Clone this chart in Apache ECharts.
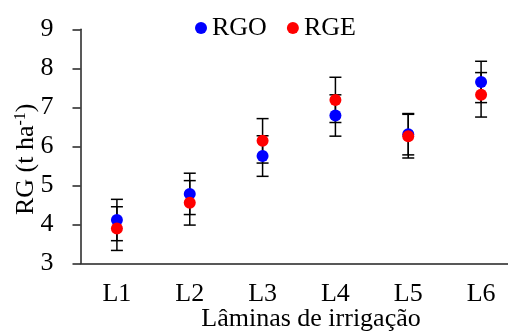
<!DOCTYPE html>
<html>
<head>
<meta charset="utf-8">
<script src="https://cdn.jsdelivr.net/npm/echarts@6/dist/echarts.min.js"></script>
<style>html,body{margin:0;padding:0;background:#fff}#c{width:508px;height:331px}</style>
</head>
<body>
<div id="c"></div>
<script>
var categories = ['L1', 'L2', 'L3', 'L4', 'L5', 'L6'];
var rgo = [4.11, 4.78, 5.75, 6.79, 6.31, 7.65];
var rgoErr = [0.53, 0.53, 0.52, 0.53, 0.53, 0.53];
var rge = [3.89, 4.55, 6.14, 7.19, 6.26, 7.32];
var rgeErr = [0.56, 0.57, 0.57, 0.58, 0.56, 0.57];
var yTicks = [3, 4, 5, 6, 7, 8, 9];

var FONT = '"Liberation Serif", "Times New Roman", serif';
var FS = 26;

function errData(vals, errs) {
  return vals.map(function (v, i) { return [i, v - errs[i], v + errs[i]]; });
}
function renderErr(params, api) {
  var x = api.value(0);
  var lo = api.coord([x, api.value(1)]);
  var hi = api.coord([x, api.value(2)]);
  var hw = 6;
  var st = { stroke: '#000', lineWidth: 1.5 };
  return {
    type: 'group',
    children: [
      { type: 'line', shape: { x1: hi[0], y1: hi[1], x2: lo[0], y2: lo[1] }, style: st },
      { type: 'line', shape: { x1: hi[0] - hw, y1: hi[1], x2: hi[0] + hw, y2: hi[1] }, style: st },
      { type: 'line', shape: { x1: lo[0] - hw, y1: lo[1], x2: lo[0] + hw, y2: lo[1] }, style: st }
    ]
  };
}

var chart = echarts.init(document.getElementById('c'), null, { renderer: 'canvas' });
chart.setOption({
  animation: false,
  backgroundColor: '#fff',
  textStyle: { fontFamily: FONT, color: '#000' },
  legend: {
    data: ['RGO', 'RGE'],
    left: 190, top: 10,
    icon: 'circle', itemWidth: 12, itemHeight: 12, itemGap: 20,
    textStyle: { fontFamily: FONT, fontSize: FS, color: '#000' }
  },
  grid: { left: 80.5, top: 29.3, width: 437, bottom: 67.7, containLabel: false, outerBoundsMode: 'none' },
  xAxis: {
    type: 'category', data: categories, boundaryGap: true,
    axisLine: { lineStyle: { color: '#222', width: 1.5 } },
    axisTick: { alignWithLabel: true, length: 7, lineStyle: { color: '#222', width: 1.5 } },
    axisLabel: { fontFamily: FONT, fontSize: FS, color: '#000', margin: 18 },
    name: 'Lâminas de irrigação', nameLocation: 'middle', nameGap: 43, nameMoveOverlap: false,
    nameTextStyle: { fontFamily: FONT, fontSize: FS, color: '#000', padding: [0, 0, 0, 24] }
  },
  yAxis: {
    type: 'value', min: yTicks[0], max: yTicks[yTicks.length - 1], interval: 1,
    splitLine: { show: false },
    axisLine: { show: true, lineStyle: { color: '#222', width: 1.5 } },
    axisTick: { show: true, length: 8, lineStyle: { color: '#222', width: 1.5 } },
    axisLabel: { fontFamily: FONT, fontSize: FS, color: '#000', margin: 27 },
    name: '{a|RG (t ha}{s|-1}{a|)}', nameLocation: 'middle', nameRotate: 90, nameGap: 40, nameMoveOverlap: false,
    nameTextStyle: {
      fontFamily: FONT, fontSize: FS, color: '#000', padding: [0, 26, 0, 0],
      rich: {
        a: { fontFamily: FONT, fontSize: FS, color: '#000', lineHeight: 28 },
        s: { fontFamily: FONT, fontSize: 16, color: '#000', verticalAlign: 'top', lineHeight: 28 }
      }
    }
  },
  series: [
    { type: 'custom', name: 'errO', data: errData(rgo, rgoErr), renderItem: renderErr, z: 1, silent: true },
    { type: 'custom', name: 'errE', data: errData(rge, rgeErr), renderItem: renderErr, z: 1, silent: true },
    { type: 'scatter', name: 'RGO', data: rgo, symbol: 'circle', symbolSize: 12, itemStyle: { color: '#0000ff', opacity: 1 }, z: 3 },
    { type: 'scatter', name: 'RGE', data: rge, symbol: 'circle', symbolSize: 12, itemStyle: { color: '#ff0000', opacity: 1 }, z: 4 }
  ]
});
</script>
</body>
</html>
